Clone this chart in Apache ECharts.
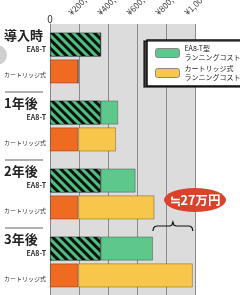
<!DOCTYPE html>
<html>
<head>
<meta charset="utf-8">
<script src="https://cdn.jsdelivr.net/npm/echarts@6/dist/echarts.min.js"></script>
<style>
html, body { margin: 0; padding: 0; background: #fff; }
#main { width: 240px; height: 295px; }
</style>
</head>
<body>
<div id="main"></div>
<script>
var groups = ['導入時', '1年後', '2年後', '3年後'];
var rowNames = ['EA8-T', 'カートリッジ式'];
var ea8Base = [350000, 350000, 350000, 350000];
var ea8Run = [0, 120000, 240000, 360000];
var cartBase = [195000, 195000, 195000, 195000];
var cartRun = [0, 260000, 525000, 790000];
var xMax = 1000000;
var xStep = 200000;
var legendNames = ['EA8-T型\nランニングコスト', 'カートリッジ式\nランニングコスト'];
var noteText = '≒27万円';

var font = '"Noto Sans CJK JP", "Noto Sans", sans-serif';

var chartDom = document.getElementById('main');
var myChart = echarts.init(chartDom);
var option;

var edge = { borderColor: 'rgba(0,0,0,0.35)', borderWidth: 0.8 };

option = {
  animation: false,
  textStyle: { fontFamily: font },
  grid: {
    left: 50, right: 45, top: 24, height: 272, outerBoundsMode: 'none',
    show: true, backgroundColor: '#dcdcdc', borderWidth: 0
  },
  legend: {
    data: legendNames,
    orient: 'vertical',
    left: 147, top: 40,
    itemWidth: 24, itemHeight: 9, itemGap: 2,
    padding: [4, 4, 4, 8],
    backgroundColor: '#fff',
    borderColor: '#111', borderWidth: 1.5,
    shadowColor: 'rgba(0,0,0,0.7)', shadowOffsetX: -3, shadowOffsetY: 1, shadowBlur: 0,
    selectedMode: false,
    itemStyle: { borderColor: '#888', borderWidth: 1 },
    textStyle: { fontSize: 7, lineHeight: 9, color: '#222', fontFamily: font }
  },
  xAxis: {
    type: 'value',
    position: 'top',
    min: 0, max: xMax, interval: xStep,
    axisLine: { show: false },
    axisTick: { show: false },
    splitLine: { lineStyle: { color: '#8a8a8a', width: 1 } },
    axisLabel: {
      rotate: -45, fontSize: 8.5, margin: 1, color: '#3a3a3a',
      align: 'left', verticalAlign: 'bottom', lineHeight: 10, padding: [0, 0, 8, 0],
      showMaxLabel: true, showMinLabel: true, hideOverlap: false,
      formatter: function (v) { return v === 0 ? '' : '¥' + v.toLocaleString('en-US'); }
    }
  },
  yAxis: {
    type: 'category',
    data: groups,
    inverse: true,
    axisLine: { lineStyle: { color: '#888' } },
    axisTick: { inside: true, length: 4, lineStyle: { color: '#333' } },
    axisLabel: {
      interval: 0,
      margin: 4,
      formatter: function (v) {
        return '{sp| }\n{g|' + v + '}\n{a|' + rowNames[0] + '}\n{sp2| }\n{b|' + rowNames[1] + '}\n{sp3| }';
      },
      rich: {
        sp: { fontSize: 4, lineHeight: 4 },
        sp2: { fontSize: 4, lineHeight: 12 },
        sp3: { fontSize: 4, lineHeight: 10 },
        g: { fontSize: 13, fontWeight: 'bold', lineHeight: 14, align: 'left', color: '#222', fontFamily: font },
        a: { fontSize: 7, fontWeight: 'bold', lineHeight: 14, align: 'right', color: '#333', fontFamily: font },
        b: { fontSize: 6, lineHeight: 14, align: 'right', color: '#333', fontFamily: font }
      }
    }
  },
  series: [
    {
      name: rowNames[0], type: 'bar', stack: 'ea8', data: ea8Base,
      barWidth: 24, barGap: '12%',
      itemStyle: Object.assign({
        color: '#111',
        decal: { symbol: 'rect', dashArrayX: [1, 0], dashArrayY: [3, 2.5], rotation: Math.PI / 4, color: '#4fbf7f' }
      }, edge)
    },
    {
      name: legendNames[0], type: 'bar', stack: 'ea8', data: ea8Run,
      barWidth: 24, barGap: '12%',
      itemStyle: Object.assign({ color: '#5ec88c' }, edge)
    },
    {
      name: rowNames[1], type: 'bar', stack: 'cart', data: cartBase,
      barWidth: 24, barGap: '12%',
      itemStyle: Object.assign({ color: '#ef6b22' }, edge)
    },
    {
      name: legendNames[1], type: 'bar', stack: 'cart', data: cartRun,
      barWidth: 24, barGap: '12%',
      itemStyle: Object.assign({ color: '#f8c64a' }, edge)
    }
  ]
};

option && myChart.setOption(option);

// separators, brace, zero label and note
var centers = groups.map(function (g) { return myChart.convertToPixel({ yAxisIndex: 0 }, g); });
var els = [];
for (var i = 1; i < centers.length; i++) {
  var y = (centers[i - 1] + centers[i]) / 2;
  els.push({ type: 'rect', shape: { x: 5, y: y - 1, width: 38, height: 2 }, style: { fill: '#b0b0b0' } });
}
var x0 = myChart.convertToPixel({ xAxisIndex: 0 }, 0);
els.push({
  type: 'text', x: x0, y: 19,
  style: { text: '0', fill: '#333', fontSize: 10, fontFamily: font, align: 'center', verticalAlign: 'middle' }
});
var last = groups.length - 1;
var x1 = myChart.convertToPixel({ xAxisIndex: 0 }, ea8Base[last] + ea8Run[last]);
var x2 = myChart.convertToPixel({ xAxisIndex: 0 }, cartBase[last] + cartRun[last]);
var by = (centers[last - 1] + centers[last]) / 2 - 2;
var xm = (x1 + x2) / 2;
els.push({
  type: 'polyline',
  shape: {
    points: [[x1, by + 5], [x1 + 0.6, by + 2], [x1 + 2, by + 0.5], [x1 + 4, by], [xm - 3, by], [xm - 1, by - 1],
      [xm, by - 4], [xm + 1, by - 1], [xm + 3, by], [x2 - 4, by], [x2 - 2, by + 0.5], [x2 - 0.6, by + 2], [x2, by + 5]]
  },
  style: { fill: null, stroke: '#111', lineWidth: 1.2 }
});
els.push({ type: 'circle', x: 195, y: 200, scaleX: 31 / 12, shape: { cx: 0, cy: 0, r: 12 }, style: { fill: '#d9432b' } });
els.push({
  type: 'text', x: 195, y: 200,
  style: { text: noteText, fill: '#fff', fontSize: 12.5, fontWeight: 'bold', fontFamily: font, align: 'center', verticalAlign: 'middle' }
});
els.push({ type: 'circle', shape: { cx: -3, cy: 55, r: 10 }, style: { fill: '#d0d0d0' } });
myChart.setOption({ graphic: els });
</script>
</body>
</html>
